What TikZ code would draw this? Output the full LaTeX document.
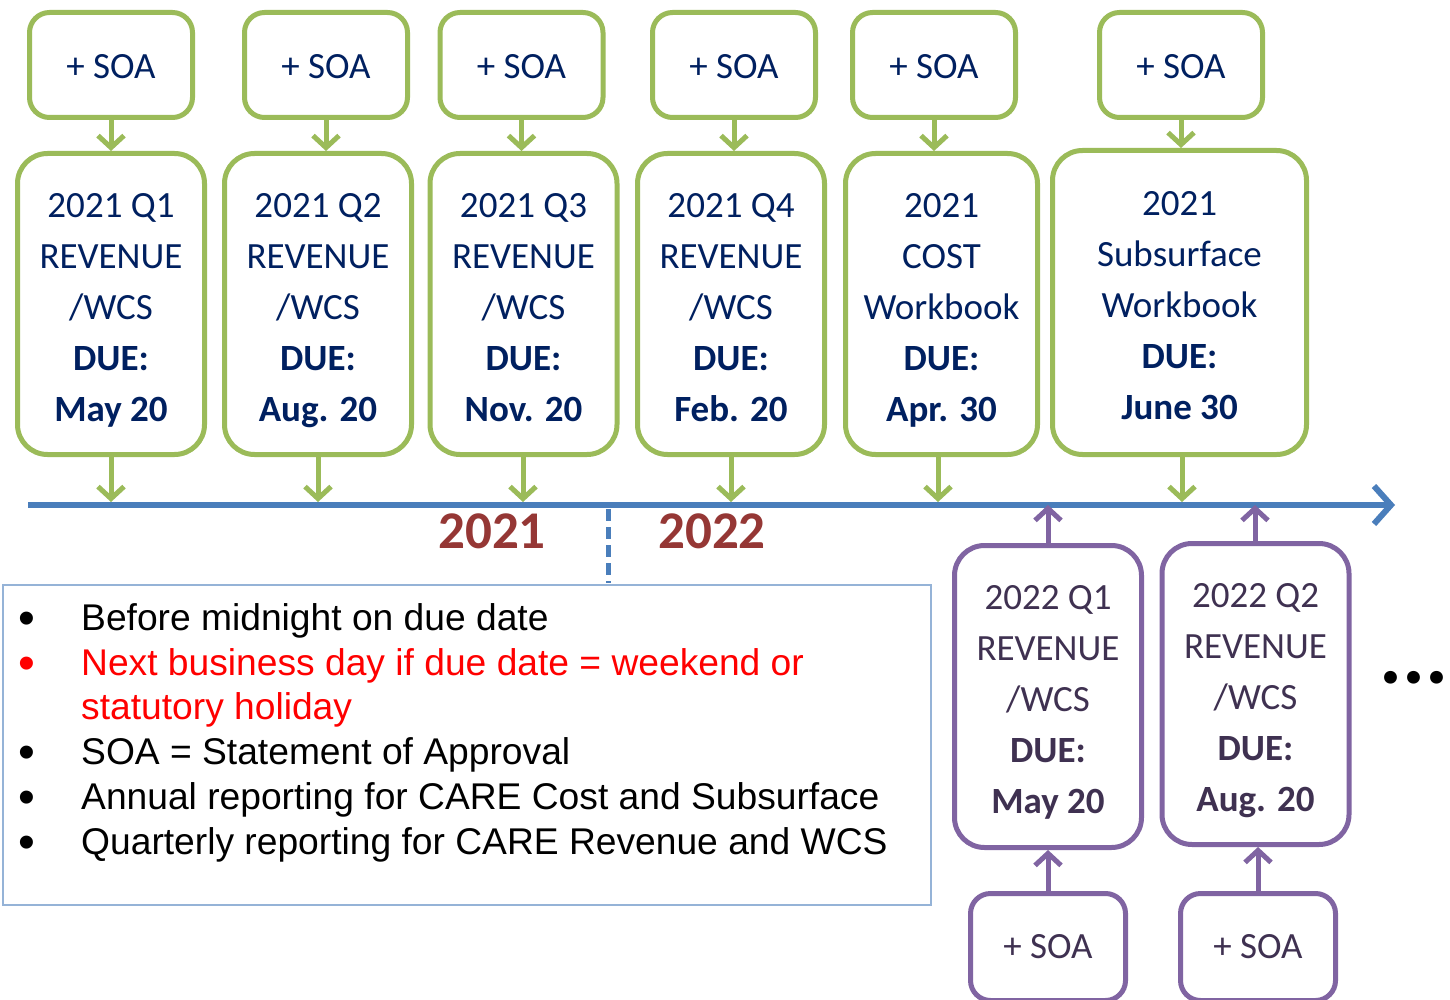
\documentclass[tikz,border=0pt]{standalone}
\usepackage{fontspec}
\setmainfont{Carlito}
\newfontfamily\arialf{Liberation Sans}
\usetikzlibrary{arrows.meta}
\definecolor{grn}{HTML}{9BBB59}
\definecolor{navy}{HTML}{002060}
\definecolor{tlblue}{HTML}{4A7EBB}
\definecolor{purp}{HTML}{8064A2}
\definecolor{purptext}{HTML}{3F3151}
\definecolor{yearred}{HTML}{953735}
\definecolor{legblue}{HTML}{95B3D7}
\definecolor{redtxt}{HTML}{FF0000}
\newcommand{\firstl}{\rule{0pt}{30pt}}
\newcommand{\soatxt}{\rule{0pt}{27pt}+ SOA}
\tikzset{
  boxfont/.style={font=\fontsize{37}{51}\selectfont},
  soag/.style={boxfont, draw=grn, line width=5pt, rounded corners=20pt, minimum width=163pt, minimum height=105pt, text=navy, inner sep=0pt},
  maing/.style={boxfont, draw=grn, line width=5pt, rounded corners=30pt, minimum width=187pt, minimum height=301pt, text=navy, align=center, inner sep=0pt},
  soap/.style={boxfont, draw=purp, line width=5pt, rounded corners=20pt, minimum width=155pt, minimum height=107pt, text=purptext, inner sep=0pt},
  mainp/.style={boxfont, draw=purp, line width=5pt, rounded corners=30pt, minimum width=187pt, minimum height=302pt, text=purptext, align=center, inner sep=0pt},
  garrow/.style={draw=grn, line width=5pt, -{Straight Barb[length=12pt,width=26pt]}},
  parrow/.style={draw=purp, line width=5pt, -{Straight Barb[length=12pt,width=26pt]}},
  timeline/.style={draw=tlblue, line width=6pt, -{Straight Barb[length=17pt,width=38pt]}},
  yearlbl/.style={font=\fontsize{53}{60}\selectfont\bfseries, text=yearred, inner sep=0pt},
  legtext/.style={font=\arialf\fontsize{37.2}{45}\selectfont, anchor=base west, inner sep=0pt},
  legbullet/.style={font=\arialf\fontsize{48}{50}\selectfont, anchor=base, inner sep=0pt},
}
\begin{document}
\begin{tikzpicture}[x=1pt,y=-1pt]
\clip (0,0) rectangle (1450,1000);
\fill[white] (0,0) rectangle (1450,1000);

% timeline
\coordinate (tlA) at (28,505);
\coordinate (tlB) at (1395,505);
\draw[timeline] (tlA) -- (tlB);

% top SOA boxes
\node[soag] (s1) at (111,65) {\soatxt};
\node[soag] (s2) at (326,65) {\soatxt};
\node[soag] (s3) at (521.5,65) {\soatxt};
\node[soag] (s4) at (734,65) {\soatxt};
\node[soag] (s5) at (934,65) {\soatxt};
\node[soag] (s6) at (1181,65) {\soatxt};

% main green boxes
\node[maing] (m1) at (111,304) {\firstl 2021 Q1\\REVENUE\\/WCS\\\textbf{DUE:}\\\smash{\textbf{May 20}}};
\node[maing] (m2) at (318,304) {\firstl 2021 Q2\\REVENUE\\/WCS\\\textbf{DUE:}\\\smash{\textbf{Aug. 20}}};
\node[maing] (m3) at (523.5,304) {\firstl 2021 Q3\\REVENUE\\/WCS\\\textbf{DUE:}\\\smash{\textbf{Nov. 20}}};
\node[maing] (m4) at (731,304) {\firstl 2021 Q4\\REVENUE\\/WCS\\\textbf{DUE:}\\\smash{\textbf{Feb. 20}}};
\node[maing, minimum width=192pt] (m5) at (941.5,304) {\firstl 2021\\COST\\Workbook\\\textbf{DUE:}\\\smash{\textbf{Apr. 30}}};
\node[maing, minimum width=254pt, minimum height=304pt] (m6) at (1179.5,302.5) {\firstl 2021\\Subsurface\\Workbook\\\textbf{DUE:}\\\smash{\textbf{June 30}}};

% SOA -> main arrows
\foreach \i in {1,...,6}{
  \draw[garrow] (s\i.south) -- (s\i.south |- m\i.north);
}

% main -> timeline arrows
\coordinate (t1) at (111,502);
\coordinate (t2) at (318,502);
\coordinate (t3) at (523,502);
\coordinate (t4) at (731,502);
\coordinate (t5) at (938,502);
\coordinate (t6) at (1182,502);
\foreach \i in {1,...,6}{
  \draw[garrow] (m\i.south -| t\i) -- (t\i);
}

% purple boxes
\node[mainp] (pm1) at (1048,696.5) {\firstl 2022 Q1\\REVENUE\\/WCS\\\textbf{DUE:}\\\smash{\textbf{May 20}}};
\node[mainp, minimum height=301pt] (pm2) at (1255.5,694) {\firstl 2022 Q2\\REVENUE\\/WCS\\\textbf{DUE:}\\\smash{\textbf{Aug. 20}}};
\node[soap] (ps1) at (1048,947) {+ SOA};
\node[soap] (ps2) at (1258,947) {+ SOA};

\coordinate (u1) at (1048,505);
\coordinate (u2) at (1255,505);
\draw[parrow] (pm1.north -| u1) -- (u1);
\draw[parrow] (pm2.north -| u2) -- (u2);
\draw[parrow] (ps1.north) -- (ps1.north |- pm1.south);
\draw[parrow] (ps2.north) -- (ps2.north |- pm2.south);

% dashed year separator
\coordinate (d1) at (608,509);
\coordinate (d2) at (608,583);
\draw[draw=tlblue, line width=5pt, dash pattern=on 12pt off 6pt] (d1) -- (d2);

% year labels
\node[yearlbl] (y1) at (492,531) {2021};
\node[yearlbl] (y2) at (712,531) {2022};

% legend
\node[draw=legblue, line width=1.5pt, minimum width=928pt, minimum height=320pt, inner sep=0pt] (leg) at (467,745) {};
\node[legbullet] (b1) at (27,634) {•};
\node[legtext] (l1) at (81,630) {Before midnight on due date};
\node[legbullet, text=redtxt] (b2) at (27,679) {•};
\node[legtext, text=redtxt] (l2) at (81,675) {Next business day if due date = weekend or};
\node[legtext, text=redtxt] (l3) at (81,719) {statutory holiday};
\node[legbullet] (b4) at (27,768) {•};
\node[legtext] (l4) at (81,764) {SOA = Statement of Approval};
\node[legbullet] (b5) at (27,813) {•};
\node[legtext] (l5) at (81,809) {Annual reporting for CARE Cost and Subsurface};
\node[legbullet] (b6) at (27,858) {•};
\node[legtext] (l6) at (81,854) {Quarterly reporting for CARE Revenue and WCS};

% ellipsis
\node[font=\fontsize{86}{90}\selectfont\bfseries, anchor=base, inner sep=0pt] (dots) at (1414,683) {...};
\end{tikzpicture}
\end{document}
